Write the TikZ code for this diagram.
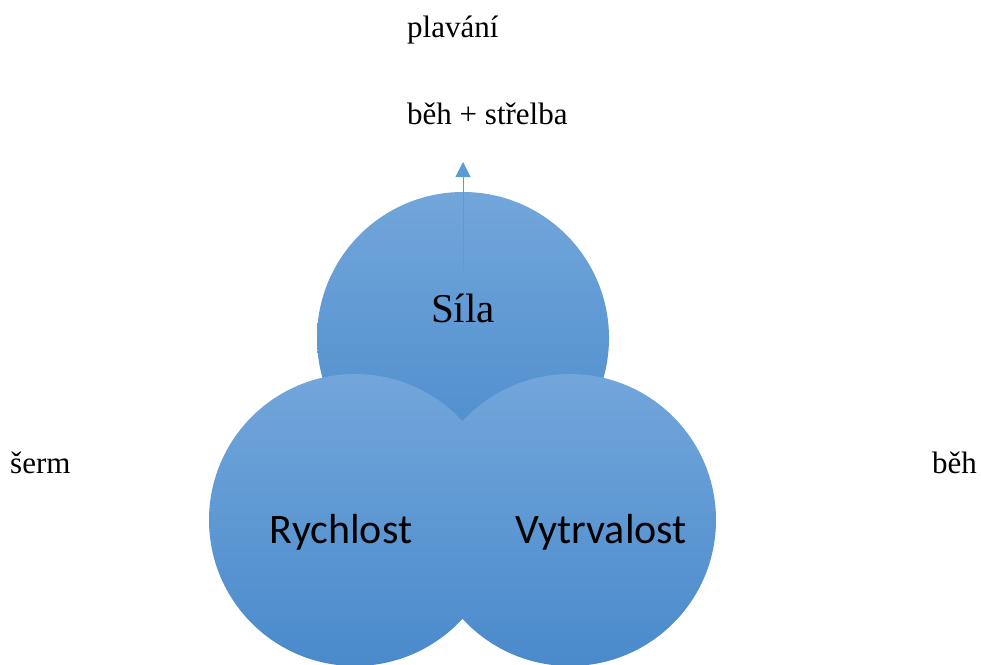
\documentclass[tikz,border=0pt]{standalone}
\usepackage{fontspec}
\setmainfont{Liberation Serif}
\newfontfamily\calib{Carlito}
\usepackage{tikz}
\usetikzlibrary{arrows.meta}
\definecolor{bluetop}{HTML}{72A6DB}
\definecolor{bluebot}{HTML}{4A8ACB}
\definecolor{blueline}{HTML}{5B9BD5}

\begin{document}
\begin{tikzpicture}
[x=1pt,y=-1pt,
ball/.style={circle,minimum size=292pt,inner sep=0pt,top color=bluetop,bottom color=bluebot,draw=none},
lab/.style={anchor=base west,inner sep=0pt,font=\fontsize{31}{31}\selectfont},
big/.style={anchor=base,inner sep=0pt,font=\fontsize{41}{41}\selectfont},
sans/.style={big,font=\calib\fontsize{42}{42}\selectfont}]
\useasboundingbox (0,0) rectangle (981,664);
\node[ball] (sila) at (463,338) {};
\node[ball] (rych) at (355,520) {};
\node[ball] (vytr) at (570,520) {};
\coordinate (from) at (463,270);
\coordinate (tip) at (463,162);
\draw[blueline,line width=1pt,-{Triangle[width=15pt,length=15pt]}] (from) -- (tip);
\node[big] (tsila) at (463,322) {Síla};
\node[sans] (trych) at (341,543) {Rychlost};
\node[sans] (tvytr) at (601,543) {Vytrvalost};
\node[lab] (plav) at (407,37) {plavání};
\node[lab] (strel) at (407,124) {běh + střelba};
\node[lab] (serm) at (10,473) {šerm};
\node[lab] (beh) at (932,473) {běh};
\end{tikzpicture}
\end{document}
